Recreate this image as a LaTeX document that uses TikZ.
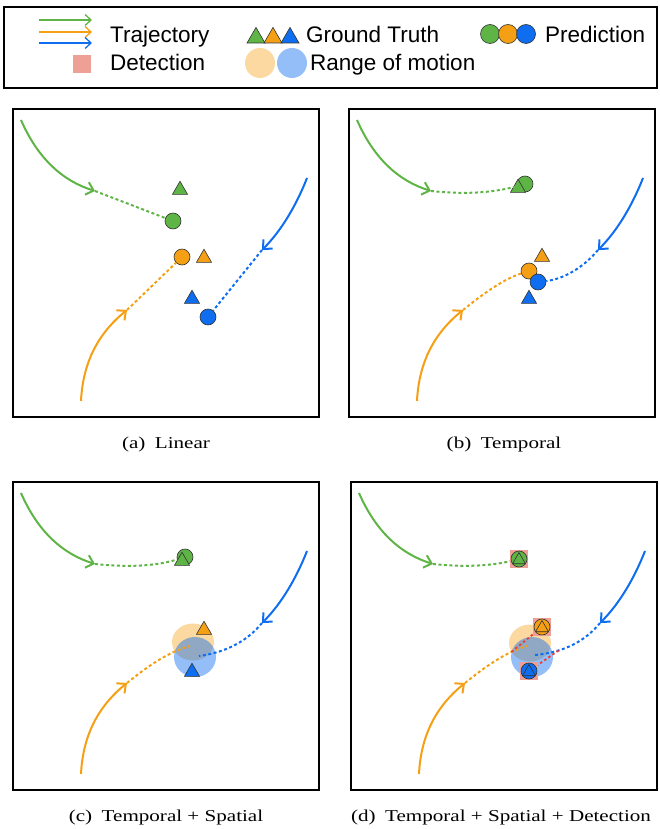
\documentclass[tikz,border=0pt]{standalone}
\usepackage{fontspec}
\setmainfont{Liberation Serif}
\setsansfont{Liberation Sans}
\usepackage{graphicx}
\usetikzlibrary{shapes.geometric, arrows.meta, positioning, calc}
\definecolor{mygreen}{RGB}{95, 180, 70}
\definecolor{myorange}{RGB}{245, 160, 20}
\definecolor{myblue}{RGB}{15, 110, 240}
\definecolor{mydet}{RGB}{238, 160, 150}
\definecolor{myred}{RGB}{235, 60, 50}
\definecolor{myedge}{RGB}{50, 50, 50}

% frame and the three observed tracks, same in every panel
\newcommand{\panelbase}{%
    \draw[frame] (0,0) rectangle (306,308);
    \coordinate (g0) at (8,11);    \coordinate (g1) at (82,82);
    \coordinate (o0) at (68,292);  \coordinate (o1) at (114,201);
    \coordinate (b0) at (294,69);  \coordinate (b1) at (249,141);
    \draw[track, mygreen] (g0) .. controls (25,50) and (50,72) .. (g1);
    \draw[track, myorange] (o0) .. controls (70,250) and (88,222) .. (o1);
    \draw[track, myblue] (b0) .. controls (283,97) and (268,122) .. (b1);
}

\begin{document}
\begin{tikzpicture}[x=1pt, y=-1pt,
        frame/.style={line width=2.8pt},
        track/.style={line width=2pt, -{Straight Barb[length=7pt, width=13pt]}},
        future/.style={line width=2pt, dash pattern=on 3pt off 2.5pt},
        link/.style={myred, line width=1.8pt, dash pattern=on 2.5pt off 2.5pt},
        legarrow/.style={line width=1.3pt, -{Straight Barb[length=6pt, width=11pt]}},
        pred/.style={circle, draw=myedge, line width=0.6pt, minimum size=16pt, inner sep=0},
        gt/.style={regular polygon, regular polygon sides=3, draw=myedge, line width=0.6pt, minimum size=17.5pt, inner sep=0},
        det/.style={rectangle, fill=mydet, minimum size=18pt, inner sep=0},
        rangeo/.style={ellipse, fill=myorange, fill opacity=0.4, minimum width=42pt, minimum height=37pt, inner sep=0},
        rangeb/.style={ellipse, fill=myblue, fill opacity=0.45, minimum width=42pt, minimum height=40pt, inner sep=0},
        legtext/.style={anchor=base west, inner sep=0, font=\sffamily\fontsize{22.5}{27}\selectfont},
        captext/.style={anchor=base, inner sep=0, font=\fontsize{16.6}{20}\selectfont}]
    \useasboundingbox (0,0) rectangle (659,829);

    % Legend
    \draw[line width=2.6pt] (4,7) rectangle (657,88);
    \draw[legarrow, mygreen] (39,20) -- (92,20);
    \draw[legarrow, myorange] (39,32) -- (92,32);
    \draw[legarrow, myblue] (39,43) -- (92,43);
    \node[legtext] (l-traj) at (110,43) {Trajectory};
    \node[det] (l-sq) at (82,64) {};
    \node[legtext] (l-det) at (110,71) {Detection};
    \node[gt, minimum size=20.8pt, fill=mygreen] (l-gt-g) at (256,37.8) {};
    \node[gt, minimum size=20.8pt, fill=myorange] (l-gt-o) at (273,37.8) {};
    \node[gt, minimum size=20.8pt, fill=myblue] (l-gt-b) at (290,37.8) {};
    \node[legtext] (l-gt) at (306,43) {Ground Truth};
    \node[pred, minimum size=19pt, fill=mygreen] (l-p-g) at (490,34) {};
    \node[pred, minimum size=19pt, fill=myorange] (l-p-o) at (508,34) {};
    \node[pred, minimum size=19pt, fill=myblue] (l-p-b) at (526,34) {};
    \node[legtext] (l-pred) at (545,43) {Prediction};
    \node[rangeo, minimum width=30pt, minimum height=30pt] (l-r-o) at (260,63) {};
    \node[rangeb, minimum width=30pt, minimum height=30pt] (l-r-b) at (292,63) {};
    \node[legtext] (l-range) at (310,71) {Range of motion};

    % (a) linear extrapolation
    \begin{scope}[shift={(13,109)}, name prefix=a-]
        \panelbase
        \node[pred, fill=mygreen] (gp) at (160,112) {};
        \node[pred, fill=myorange] (op) at (169,148) {};
        \node[pred, fill=myblue] (bp) at (195,208) {};
        \node[gt, fill=mygreen] (gt-g) at (167,81) {};
        \node[gt, fill=myorange] (gt-o) at (191,149) {};
        \node[gt, fill=myblue] (gt-b) at (179,190) {};
        \draw[future, mygreen] (g1) -- (gp);
        \draw[future, myorange] (o1) -- (op);
        \draw[future, myblue] (b1) -- (bp);
    \end{scope}
    \node[captext] (cap-a) at (166,448) {\scalebox{1.27}[1]{(a)\hspace{0.45em}Linear}};

    % (b) temporal
    \begin{scope}[shift={(349,109)}, name prefix=b-]
        \panelbase
        \node[pred, fill=mygreen] (gp) at (176,75) {};
        \node[gt, fill=mygreen] (gt-g) at (169,79) {};
        \node[pred, fill=myorange] (op) at (180,162) {};
        \node[pred, fill=myblue] (bp) at (189,173) {};
        \node[gt, fill=myorange] (gt-o) at (193,148) {};
        \node[gt, fill=myblue] (gt-b) at (180,190) {};
        \draw[future, mygreen] (g1) .. controls (110,85) and (140,85) .. (gp);
        \draw[future, myorange] (o1) .. controls (135,184) and (155,170) .. (op);
        \draw[future, myblue] (b1) .. controls (235,158) and (215,170) .. (bp);
    \end{scope}
    \node[captext] (cap-b) at (504,448) {\scalebox{1.27}[1]{(b)\hspace{0.45em}Temporal}};

    % (c) temporal + spatial
    \begin{scope}[shift={(13,482)}, name prefix=c-]
        \panelbase
        \node[rangeo] (or) at (180,160) {};
        \node[rangeb] (br) at (182,175) {};
        \coordinate (oe) at (177,164);
        \coordinate (be) at (186,174);
        \node[pred, fill=mygreen] (gp) at (172,75) {};
        \node[gt, fill=mygreen] (gt-g) at (169,79) {};
        \draw[future, mygreen] (g1) .. controls (110,85) and (140,85) .. (gp);
        \draw[future, myorange] (o1) .. controls (135,184) and (155,170) .. (oe);
        \draw[future, myblue] (b1) .. controls (235,158) and (215,170) .. (be);
        \node[gt, fill=myorange] (gt-o) at (191,148) {};
        \node[gt, fill=myblue] (gt-b) at (179,190) {};
    \end{scope}
    \node[captext] (cap-c) at (166,821) {\scalebox{1.27}[1]{(c)\hspace{0.45em}Temporal + Spatial}};

    % (d) temporal + spatial + detection
    \begin{scope}[shift={(351,482)}, name prefix=d-]
        \panelbase
        \node[rangeo] (or) at (179,161) {};
        \node[rangeb] (br) at (181,175) {};
        \coordinate (oe) at (176,164);
        \coordinate (be) at (184,173);
        \coordinate (gd) at (168,77);
        \coordinate (od) at (191,145);
        \coordinate (bd) at (178,189);
        \draw[future, mygreen] (g1) .. controls (110,85) and (140,85) .. (gd);
        \draw[future, myorange] (o1) .. controls (135,184) and (155,170) .. (oe) coordinate[pos=0.75] (om);
        \draw[future, myblue] (b1) .. controls (235,158) and (215,170) .. (be) coordinate[pos=0.72] (bm);
        \draw[link] (om) -- (od);
        \draw[link] (bm) -- (bd);
        % detections with the matched prediction on top
        \node[det] (g-sq) at (gd) {};
        \node[det] (o-sq) at (od) {};
        \node[det] (b-sq) at (bd) {};
        \node[pred, fill=mygreen] (gp) at (gd) {};
        \node[pred, fill=myorange] (op) at (od) {};
        \node[pred, fill=myblue] (bp) at (bd) {};
        \node[gt, minimum size=15pt, fill=mygreen] (gt-g) at ($(gd)+(0,1)$) {};
        \node[gt, minimum size=15pt, fill=myorange] (gt-o) at ($(od)+(0,1)$) {};
        \node[gt, minimum size=15pt, fill=myblue] (gt-b) at ($(bd)+(0,1)$) {};
    \end{scope}
    \node[captext] (cap-d) at (501,821) {\scalebox{1.27}[1]{(d)\hspace{0.45em}Temporal + Spatial + Detection}};
\end{tikzpicture}
\end{document}
